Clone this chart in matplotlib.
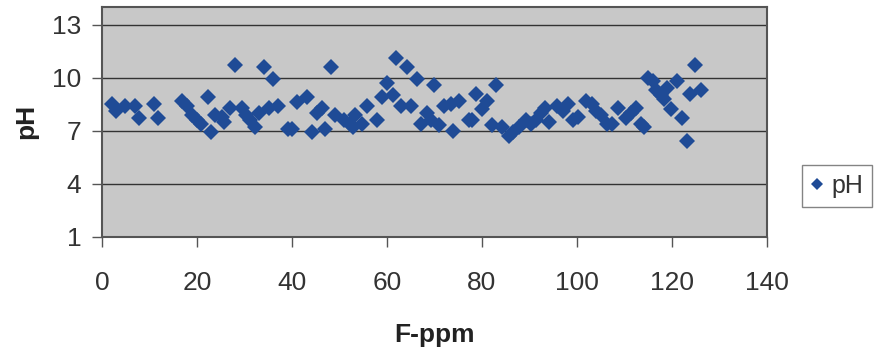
import matplotlib
matplotlib.use("Agg")
import matplotlib.pyplot as plt

# F-ppm vs pH readings
fppm = [2.0, 2.9, 4.7, 7.0, 7.8, 11.0, 11.7, 16.9, 17.9, 18.9, 20.0, 20.9, 22.2, 23.0, 23.7,
        25.2, 25.6, 27.0, 27.9, 29.5, 30.2, 31.2, 32.1, 33.0, 34.0, 35.1, 36.0, 37.1, 39.2, 40.0,
        41.1, 43.2, 44.1, 45.3, 46.3, 46.9, 48.1, 49.0, 50.9, 52.3, 52.8, 53.2, 54.8, 55.8, 57.9,
        59.0, 60.1, 61.2, 62.0, 62.9, 64.3, 65.1, 66.4, 67.1, 68.5, 69.2, 69.9, 71.0, 72.0, 73.4,
        73.9, 75.2, 77.3, 78.0, 78.8, 80.1, 81.1, 82.1, 82.9, 84.2, 85.7, 86.6, 87.8, 89.2, 90.3,
        91.4, 92.4, 93.3, 94.2, 95.9, 97.0, 98.2, 99.1, 100.2, 101.9, 103.2, 104.0, 105.1, 106.3,
        107.5, 108.6, 110.3, 111.4, 112.4, 113.5, 114.2, 114.9, 116.0, 116.7, 117.7, 118.4, 119.1,
        119.9, 121.2, 122.1, 123.2, 123.9, 124.9, 126.2]
ph = [8.5, 8.1, 8.4, 8.4, 7.7, 8.5, 7.7, 8.7, 8.4, 7.9, 7.6, 7.4, 8.9, 6.9, 7.9,
      7.8, 7.5, 8.3, 10.7, 8.3, 7.9, 7.6, 7.2, 8.0, 10.6, 8.3, 9.9, 8.4, 7.1, 7.1,
      8.6, 8.9, 6.9, 8.0, 8.3, 7.1, 10.6, 7.9, 7.6, 7.4, 7.2, 7.9, 7.4, 8.4, 7.6,
      8.9, 9.7, 9.0, 11.1, 8.4, 10.6, 8.4, 9.9, 7.4, 8.0, 7.6, 9.6, 7.3, 8.4, 8.5,
      7.0, 8.7, 7.6, 7.6, 9.1, 8.2, 8.7, 7.3, 9.6, 7.2, 6.7, 6.9, 7.2, 7.6, 7.4,
      7.6, 8.0, 8.3, 7.5, 8.4, 8.1, 8.5, 7.6, 7.8, 8.7, 8.5, 8.1, 7.9, 7.4,
      7.4, 8.3, 7.7, 8.0, 8.3, 7.4, 7.2, 10.0, 9.8, 9.3, 9.0, 8.8, 9.4,
      8.2, 9.8, 7.7, 6.4, 9.1, 10.7, 9.3]

xticks = [0, 20, 40, 60, 80, 100, 120, 140]
yticks = [1, 4, 7, 10, 13]

plt.rcParams['font.family'] = ['Liberation Sans', 'DejaVu Sans']

fig = plt.figure(figsize=(8.77, 3.5), dpi=100)
ax = fig.add_axes([0.1166, 0.3237, 0.7576, 0.6563])
ax.set_facecolor('#c8c8c8')

for yv in yticks[1:]:
    ax.axhline(yv, color='#333333', lw=1.0, zorder=1)

ax.plot(fppm, ph, linestyle='none', marker='D', ms=8.5, color='#1f4b96',
        markeredgewidth=0, label='pH', zorder=3)

ax.set_xlim(0, 140)
ax.set_ylim(1, 14)
ax.set_xticks(xticks)
ax.set_yticks(yticks)
ax.tick_params(axis='both', labelsize=19, labelcolor='#333333', length=7, width=1,
               color='#555555', direction='out')
ax.tick_params(axis='x', pad=18)
ax.tick_params(axis='y', pad=8)

for s in ax.spines.values():
    s.set_color('#555555')
    s.set_linewidth(1.5)

ax.set_xlabel('F-ppm', fontsize=19, fontweight='bold', color='#222222', labelpad=20)
ax.set_ylabel('pH', fontsize=19, fontweight='bold', color='#222222', labelpad=10)

fig.legend(loc='center left', bbox_to_anchor=(0.914, 0.468), fontsize=18, frameon=True,
           fancybox=False, edgecolor='#666666', handlelength=0.5, handletextpad=0.35,
           borderpad=0.35, borderaxespad=0.0, markerscale=0.75, labelcolor='#333333')

fig.savefig('out.png', dpi=100)
